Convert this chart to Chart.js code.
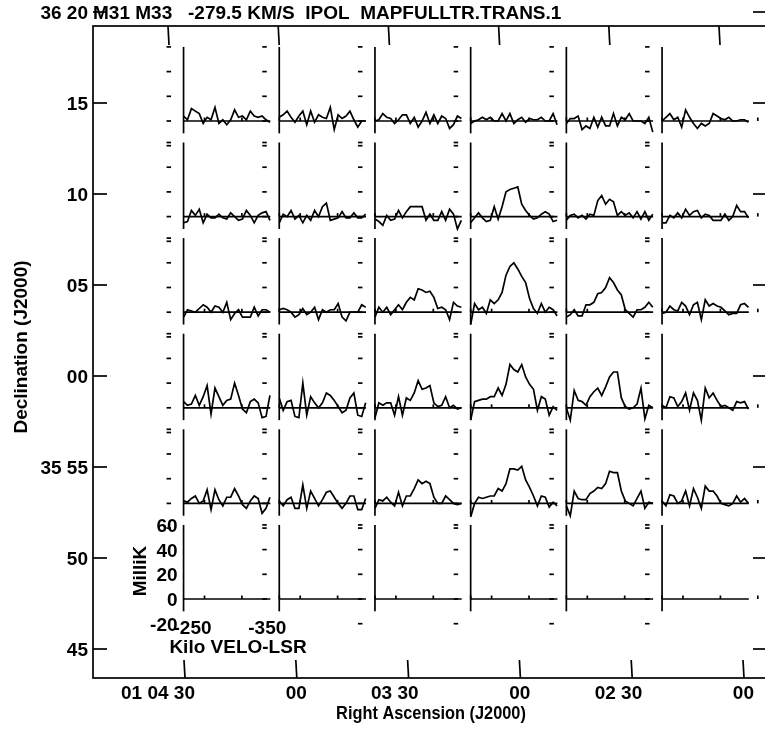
<!DOCTYPE html>
<html>
<head>
<meta charset="utf-8">
<script src="https://cdn.jsdelivr.net/npm/chart.js@4.4.1/dist/chart.umd.min.js"></script>
<style>
html,body{margin:0;padding:0;background:#fff;overflow:hidden;width:765px;height:729px}
canvas{display:block}
</style>
</head>
<body>
<canvas id="c" width="780" height="729"></canvas>
<script>
// ---------------- DATA ----------------
const titleText = "M31 M33   -279.5 KM/S  IPOL  MAPFULLTR.TRANS.1";

// channel velocities (km/s, LSR) of every spectrum
const velocities = [-222.00, -227.25, -232.50, -237.75, -243.00, -248.25, -253.50, -258.75,
  -264.00, -269.25, -274.50, -279.75, -285.00, -290.25, -295.50, -300.75, -306.00, -311.25,
  -316.50, -321.75, -327.00, -332.25, -337.50];

// spectra (milliK), one row of the map per array, columns left (east) to right (west)
const row1 = [
  [4, 1, 10, 8, 6, -2, 3, 1, 11, -2, 1, -3, 1, 9, 3, 4, 1, 8, 4, 3, 4, 1, -1],
  [3, 5, 8, 3, -1, 4, 8, -3, 8, -1, 5, 3, 2, 11, -7, 5, 2, 4, 8, 1, -5, 0, 0],
  [0, 1, 6, 3, 2, -2, 1, 5, 5, -2, 3, -5, 0, 7, -2, 5, -2, 4, 2, -6, -3, 4, 2],
  [-2, 0, 1, 3, 1, 3, 0, 0, 6, 0, 6, -2, 1, 3, -1, 2, 1, 1, 3, 0, 0, 6, -3],
  [-2, 2, 2, 4, -7, -4, -6, 3, -5, 3, -4, -4, 6, -4, 3, 1, 6, 0, 0, 0, -2, 3, -9],
  [0, 3, 6, 1, 3, -5, 9, 3, -2, -6, -2, -4, -2, 6, 4, 2, 1, 3, 0, 0, 1, 1, -1]
];
const row2 = [
  [-5, -4, 5, 1, 6, -5, 2, -1, -1, 2, -1, -2, 3, 0, -3, -2, 5, 1, -5, 1, 3, 4, -3],
  [-5, 2, 0, 5, -2, 1, -5, 1, -3, 5, 0, 8, 11, -3, -2, -1, 4, -1, -1, 3, -1, -1, 2],
  [-2, -4, -7, 1, -3, -2, 5, -1, 4, 8, 8, 8, 8, -3, 2, -3, -3, 4, -3, 6, 2, -10, -3],
  [-5, -1, 3, -1, -4, -3, 8, -2, 8, 20, 22, 23, 24, 10, 5, 1, -2, -1, 2, 4, 2, -4, -3],
  [-3, 1, 2, -1, 1, -2, 2, 1, 13, 17, 10, 14, 12, 1, 4, 1, 3, -1, 4, -2, 4, -3, 2],
  [-5, -5, 1, -1, 3, -1, 6, 1, 4, 5, -1, 2, 1, -3, -3, -3, 2, -3, 0, 9, 4, 4, -1]
];
const row3 = [
  [-4, 2, 1, 0, 3, 6, 4, 0, 5, 4, 0, 8, -6, -1, 2, -4, -4, -4, 4, -3, 2, 2, 0],
  [2, 3, 2, 0, -4, -2, 3, -2, 0, 4, -6, 2, 0, 2, 2, 7, -4, -7, 0, 0, 0, 6, 4],
  [-4, 4, 0, 4, -2, 2, 6, 2, 8, 12, 10, 19, 18, 16, 17, 12, 3, 4, 2, -6, 8, 5, 4],
  [-10, 7, 2, 4, -1, 10, 7, 10, 16, 30, 37, 40, 35, 29, 24, 11, 3, -1, 7, 0, 4, 2, -3],
  [-4, -2, 2, -3, -3, 6, 6, 8, 15, 16, 20, 28, 24, 18, 14, 2, -1, -4, 2, 2, 4, 8, 4],
  [-1, 0, 5, 2, 1, 8, 5, -2, 6, 8, -6, 10, 5, 7, 5, 4, 1, -2, -1, -1, 6, 7, 4]
];
const row4 = [
  [5, 2, 3, 10, 2, 9, 18, -5, 16, 9, 2, 6, 7, 20, 10, -1, -4, 5, 7, 4, -8, -7, 10],
  [8, -2, 5, 6, -7, -8, 20, -6, 9, 4, 0, 4, 12, 10, 6, 1, -4, -2, 8, 12, -6, -7, 4],
  [-8, 4, 2, 4, 4, -6, 9, -6, 8, 6, 12, 22, 15, 16, 18, 4, 1, 2, 9, 0, 2, -1, 0],
  [-10, 5, 6, 7, 7, 9, 9, 16, 10, 19, 35, 31, 29, 35, 25, 19, 15, -2, 9, 7, -6, 1, -2],
  [0, -10, 14, 6, 5, 2, 9, 13, 16, 10, 17, 25, 29, 29, 8, 1, -1, 0, 3, 16, -9, 2, 0],
  [2, 0, 9, 8, 1, 5, 12, -2, 12, 6, -10, 16, 8, 12, 6, 1, 2, 0, -2, 5, 4, 5, -1]
];
const row5 = [
  [2, 1, 4, 6, 0, 2, 11, -5, 11, 3, -2, 5, 5, 12, 6, -1, -4, 2, 6, 4, -8, -4, 5],
  [2, -2, 3, 5, -4, -4, 15, -4, 10, 4, -2, 3, 9, 10, 5, 0, -4, 0, 6, 6, -5, -5, 4],
  [-4, 3, 2, 5, 1, -2, 9, -2, 6, 6, 12, 19, 16, 18, 16, 5, 0, 0, 6, 3, 0, -1, 0],
  [-11, 0, 5, 4, 5, 6, 6, 12, 10, 16, 28, 28, 27, 30, 19, 13, 6, -2, 6, 5, -3, 1, -2],
  [-2, -10, 10, 4, 3, 3, 8, 10, 13, 12, 16, 26, 25, 25, 10, 2, 0, -2, 4, 10, -4, 1, 0],
  [2, -2, 7, 6, 0, 2, 10, -2, 12, 5, -4, 14, 10, 10, 6, 0, -1, -2, 0, 6, 1, 4, 0]
];
const row6 = [null, null, null, null, null, null]; // empty row (scale box only)
const mapRows = [row1, row2, row3, row4, row5, row6];

// outer coordinate axes
const decTickValues = [80, 75, 70, 65, 60, 55, 50, 45];          // arcmin above 35 deg
const decTickLabels = ["36 20", "15", "10", "05", "00", "35 55", "50", "45"];
const raTickValues = [270, 240, 210, 180, 150, 120];             // seconds after 01h00m
const raTickLabels = ["01 04 30", "00", "03 30", "00", "02 30", "00"];

// panel axes
const intensityTicks = [-20, 0, 20, 40, 60];                     // milliK
const intensityLabels = ["-20", "0", "20", "40", "60"];
const velocityTickMarks = [-250, -300, -350];
const velocityLabelValues = [-250, -350];
const velocityLabels = ["-250", "-350"];
const velocityEnd = -338;

// ---------------- LAYOUT ----------------
const CW = 780, CH = 729;
const FRAME = {left: 93, top: 26, right: 768, bottom: 678};
const PANEL_X0 = 183.5, PANEL_DX = 95.7;   // column origin (axis line)
const PANEL_Y0 = 121, PANEL_DY = 95.6;     // row baseline (0 mK)
const VEL_PX = 0.748;                      // px per km/s
const MK_PX = 1.235;                       // px per mK
const FONT = 'bold 19px "Liberation Sans", Arial, Helvetica, sans-serif';
const LW = 1.7;

function rangeFrom(v1, p1, v2, p2, pA, pB) {
  const k = (p2 - p1) / (v2 - v1);
  return [v1 + (pA - p1) / k, v1 + (pB - p1) / k];
}
function hScale(v1, p1, v2, p2) {
  const [a, b] = rangeFrom(v1, p1, v2, p2, FRAME.left, FRAME.right);
  return {type: 'linear', axis: 'x', position: 'bottom', display: false,
          min: Math.min(a, b), max: Math.max(a, b), reverse: a > b};
}
function vScale(v1, p1, v2, p2) {
  const [a, b] = rangeFrom(v1, p1, v2, p2, FRAME.top, FRAME.bottom);
  return {type: 'linear', axis: 'y', position: 'left', display: false,
          min: Math.min(a, b), max: Math.max(a, b), reverse: a < b};
}

const scales = {
  x: {type: 'linear', display: false},
  y: {type: 'linear', display: false},
  ra: hScale(270, 185, 120, 744),
  raTop: hScale(270, 168, 120, 719),
  dec: vScale(75, 103, 45, 649)
};
for (let c = 0; c < 6; c++) {
  const x0 = PANEL_X0 + c * PANEL_DX;
  scales['x' + c] = hScale(-250, x0 + 21, -300, x0 + 21 + 50 * VEL_PX);
}
for (let r = 0; r < 6; r++) {
  const b = PANEL_Y0 + r * PANEL_DY;
  scales['y' + r] = vScale(0, b, 60, b - 60 * MK_PX);
}

const datasets = [];
mapRows.forEach((row, r) => {
  row.forEach((spec, c) => {
    if (!spec) return;
    datasets.push({
      data: velocities.map((v, i) => ({x: v, y: spec[i]})),
      xAxisID: 'x' + c, yAxisID: 'y' + r,
      showLine: true, borderColor: '#000', borderWidth: LW,
      pointRadius: 0, tension: 0, fill: false
    });
  });
});

function line(ctx, x1, y1, x2, y2) {
  ctx.beginPath(); ctx.moveTo(x1, y1); ctx.lineTo(x2, y2); ctx.stroke();
}

const gridPlugin = {
  id: 'aipsGrid',
  beforeDatasetsDraw(chart) {
    const ctx = chart.ctx;
    ctx.save();
    ctx.strokeStyle = '#000';
    ctx.lineWidth = LW;
    for (let r = 0; r < 6; r++) {
      const ys = chart.scales['y' + r];
      const y0 = ys.getPixelForValue(0);
      for (let c = 0; c < 6; c++) {
        const xs = chart.scales['x' + c];
        const ax = xs.getPixelForValue(velocities[0]);
        line(ctx, ax, ys.getPixelForValue(60), ax, ys.getPixelForValue(-10));
        line(ctx, ax, y0, xs.getPixelForValue(velocityEnd), y0);
        velocityTickMarks.forEach(v => {
          const x = xs.getPixelForValue(v);
          line(ctx, x, y0, x, y0 - 3.5);
        });
        if (r === 5 && c === 0) continue;
        intensityTicks.forEach(t => {
          if (r === 5 && c === 1 && t === -20) return;
          const y = ys.getPixelForValue(t);
          line(ctx, ax - 17, y, ax - 12.5, y);
        });
      }
    }
    ctx.restore();
  },
  afterDraw(chart) {
    const ctx = chart.ctx;
    const ra = chart.scales.ra, raTop = chart.scales.raTop, dec = chart.scales.dec;
    const F = FRAME;
    ctx.save();
    ctx.strokeStyle = '#000';
    ctx.fillStyle = '#000';
    ctx.lineWidth = LW;
    ctx.strokeRect(F.left, F.top, F.right - F.left, F.bottom - F.top);
    ctx.font = FONT;
    ctx.textAlign = 'right';
    ctx.textBaseline = 'alphabetic';
    decTickValues.forEach((d, i) => {
      const y = dec.getPixelForValue(d);
      line(ctx, F.left, y, F.left + 14, y);
      line(ctx, F.right, y, F.right - 15, y);
      ctx.fillText(decTickLabels[i], F.left - 5, y + 7);
    });
    raTickValues.forEach((s, i) => {
      const xb = ra.getPixelForValue(s);
      line(ctx, xb, F.bottom, xb - 1, F.bottom - 18);
      const xt = raTop.getPixelForValue(s);
      line(ctx, xt, F.top, xt + 1, F.top + 19);
      ctx.fillText(raTickLabels[i], xb + 10, 699);
    });
    ctx.textAlign = 'left';
    ctx.fillText(titleText, F.left, 19);
    ctx.textAlign = 'center';
    ctx.save();
    ctx.translate(431, 719);
    ctx.scale(0.86, 1);
    ctx.fillText('Right Ascension (J2000)', 0, 0);
    ctx.restore();
    ctx.save();
    ctx.translate(27, 347);
    ctx.rotate(-Math.PI / 2);
    ctx.fillText('Declination (J2000)', 0, 0);
    ctx.restore();
    const xs = chart.scales.x0, ys = chart.scales.y5;
    const ax = xs.getPixelForValue(velocities[0]);
    ctx.textAlign = 'right';
    intensityTicks.forEach((t, i) => {
      ctx.fillText(intensityLabels[i], ax - 6, ys.getPixelForValue(t) + 7);
    });
    ctx.textAlign = 'center';
    velocityLabelValues.forEach((v, i) => {
      ctx.fillText(velocityLabels[i], xs.getPixelForValue(v) - 12, 634);
    });
    ctx.fillText('Kilo VELO-LSR', 238, 653);
    ctx.save();
    ctx.translate(146, 571);
    ctx.rotate(-Math.PI / 2);
    ctx.fillText('MilliK', 0, 0);
    ctx.restore();
    ctx.restore();
  }
};

new Chart(document.getElementById('c'), {
  type: 'scatter',
  data: {datasets},
  options: {
    responsive: false,
    animation: false,
    events: [],
    layout: {padding: {left: FRAME.left, top: FRAME.top, right: CW - FRAME.right, bottom: CH - FRAME.bottom}},
    plugins: {legend: {display: false}, tooltip: {enabled: false}},
    scales
  },
  plugins: [gridPlugin]
});
</script>
</body>
</html>
